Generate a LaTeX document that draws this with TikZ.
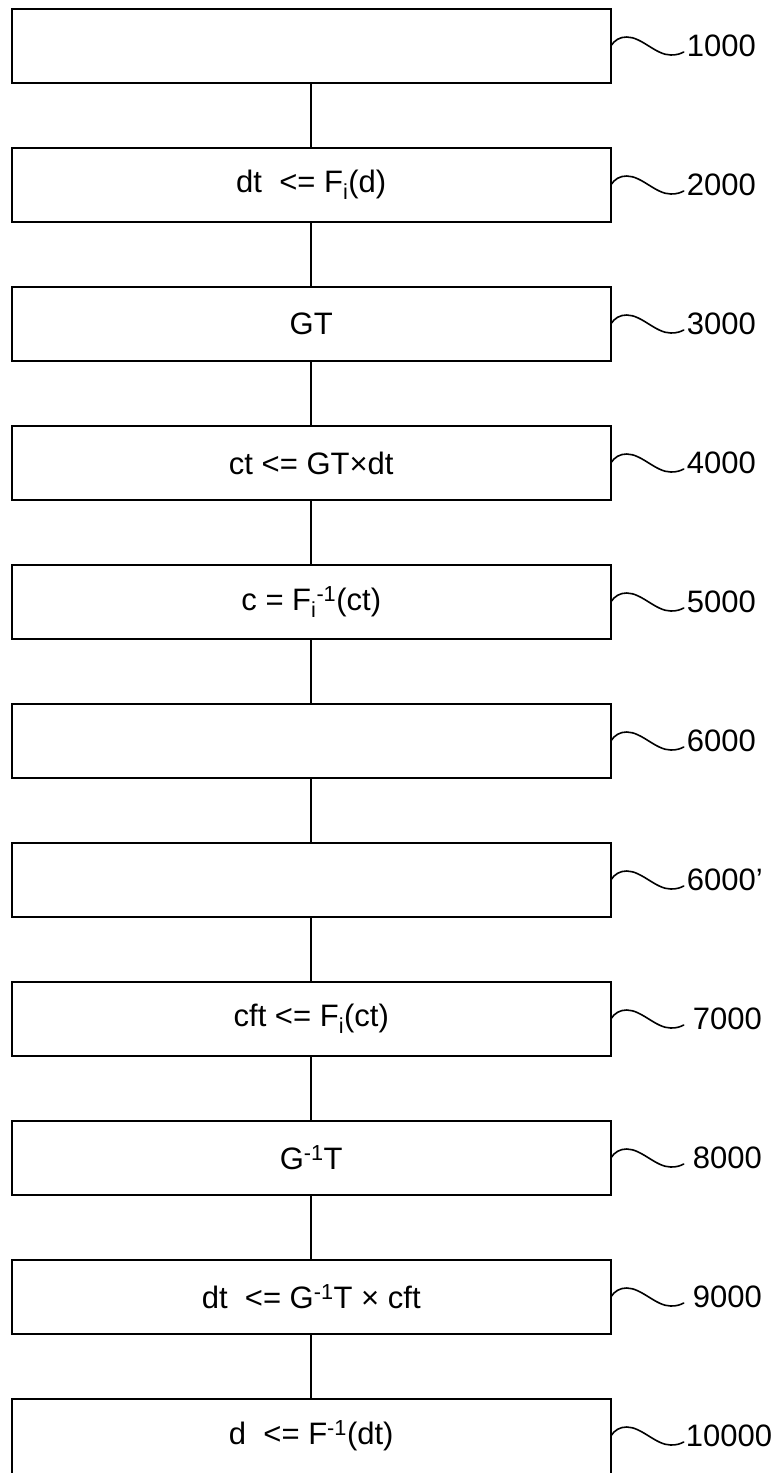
\documentclass[tikz,border=0pt]{standalone}
\usepackage{fontspec}
\setmainfont{Liberation Sans}
\begin{document}
\begin{tikzpicture}[x=1pt,y=-1pt,
  every node/.style={font=\fontsize{31}{37}\selectfont},
  stepbox/.style={line width=1.7pt,minimum width=599pt,minimum height=74pt,inner sep=0pt,outer sep=0pt},
  framed/.style={stepbox,draw},
  link/.style={line width=1.7pt},
  squig/.style={line width=1.6pt,line cap=round},
  reflabel/.style={anchor=base west,inner sep=0pt}]
\useasboundingbox (0,0) rectangle (774,1473);

% process steps, one every 139pt
\node[framed] (b1)  at (311.25,46)   {};
\node[framed] (b2)  at (311.25,185)  {dt\ \ <= F\textsubscript{i}(d)};
\node[framed] (b3)  at (311.25,324)  {GT};
\node[framed] (b4)  at (311.25,463)  {ct <= GT×dt};
\node[framed] (b5)  at (311.25,602)  {c = F\textsubscript{i}\textsuperscript{-1}(ct)};
\node[framed] (b6)  at (311.25,741)  {};
\node[framed] (b7)  at (311.25,880)  {};
\node[framed] (b8)  at (311.25,1019) {cft <= F\textsubscript{i}(ct)};
\node[framed] (b9)  at (311.25,1158) {G\textsuperscript{-1}T};
\node[framed] (b10) at (311.25,1297) {dt\ \ <= G\textsuperscript{-1}T × cft};
\node[stepbox] (b11) at (311.25,1436) {d\ \ <= F\textsuperscript{-1}(dt)};
% last step runs off the bottom edge: no lower side
\draw[link] (b11.south west) -- (b11.north west) -- (b11.north east) -- (b11.south east);

% vertical connectors
\foreach \a/\b in {b1/b2,b2/b3,b3/b4,b4/b5,b5/b6,b6/b7,b7/b8,b8/b9,b9/b10,b10/b11}
  \draw[link] (\a.south) -- (\b.north);

% wavy leader lines with reference numerals
\newcommand{\refmark}[4]{%
  \draw[squig] (#1.east) .. controls +(4,-6) and +(-7,0) .. ++(16,-9)
    .. controls +(15,0) and +(-15,0) .. ++(44,18)
    .. controls +(6,0) and +(-4,2) .. ++(13,-3) coordinate (#1e);
  \node[reflabel] (#1t) at ([shift={(#3,#4)}]#1e) {#2};}
\refmark{b1}{1000}{3}{4}
\refmark{b2}{2000}{3}{4}
\refmark{b3}{3000}{3}{4}
\refmark{b4}{4000}{3}{4}
\refmark{b5}{5000}{3}{4}
\refmark{b6}{6000}{3}{4}
\refmark{b7}{6000’}{3}{4}
\refmark{b8}{7000}{9}{4}
\refmark{b9}{8000}{9}{4}
\refmark{b10}{9000}{9}{4}
\refmark{b11}{10000}{2}{4}
\end{tikzpicture}
\end{document}
